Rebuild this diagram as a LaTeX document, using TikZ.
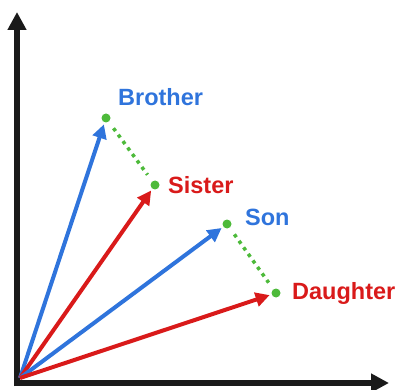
\documentclass[tikz,border=0pt]{standalone}
\usepackage{fontspec}
\setmainfont{Liberation Sans}
\usetikzlibrary{arrows.meta}
\definecolor{vblue}{HTML}{2F74DC}
\definecolor{vred}{HTML}{D91A1A}
\definecolor{vgreen}{HTML}{4DBA3A}
\definecolor{axisgray}{HTML}{1A1A1A}
\tikzset{
  axisline/.style={draw=axisgray, line width=6.5pt, -{Triangle[length=18pt,width=18pt]}},
  vec/.style={line width=4pt, -{Triangle[length=14pt,width=14pt]}, shorten >=2pt},
  pt/.style={circle, fill=vgreen, inner sep=0pt, minimum size=9pt},
  link/.style={draw=vgreen, line width=3.5pt, dash pattern=on 3.5pt off 4.5pt, shorten <=8pt, shorten >=8pt},
  word/.style={font=\bfseries\fontsize{23.5}{23.5}\selectfont, anchor=west, inner sep=0pt}
}
\begin{document}
\begin{tikzpicture}[x=1pt, y=-1pt]
\useasboundingbox (0,0) rectangle (396,390);
% axes
\coordinate (ytip) at (17,12);
\coordinate (xtip) at (389,383);
\draw[axisline] (17,386) -- (ytip);
\draw[axisline] (14,383) -- (xtip);
% word points
\coordinate (v0) at (20,378);
\node[pt] (brother) at (106,118) {};
\node[pt] (sister) at (155,185) {};
\node[pt] (son) at (227,224) {};
\node[pt] (daughter) at (276,293) {};
% vectors
\draw[vec, vblue] (v0) -- (brother);
\draw[vec, vred] (v0) -- (sister);
\draw[vec, vblue] (v0) -- (son);
\draw[vec, vred] (v0) -- (daughter);
% difference links
\draw[link] (brother) -- (sister);
\draw[link] (son) -- (daughter);
% labels
\node[word, text=vblue] at (118,97) {Brother};
\node[word, text=vred] at (168,185) {Sister};
\node[word, text=vblue] at (245,217) {Son};
\node[word, text=vred] at (292,293) {Daughter};
\end{tikzpicture}
\end{document}
